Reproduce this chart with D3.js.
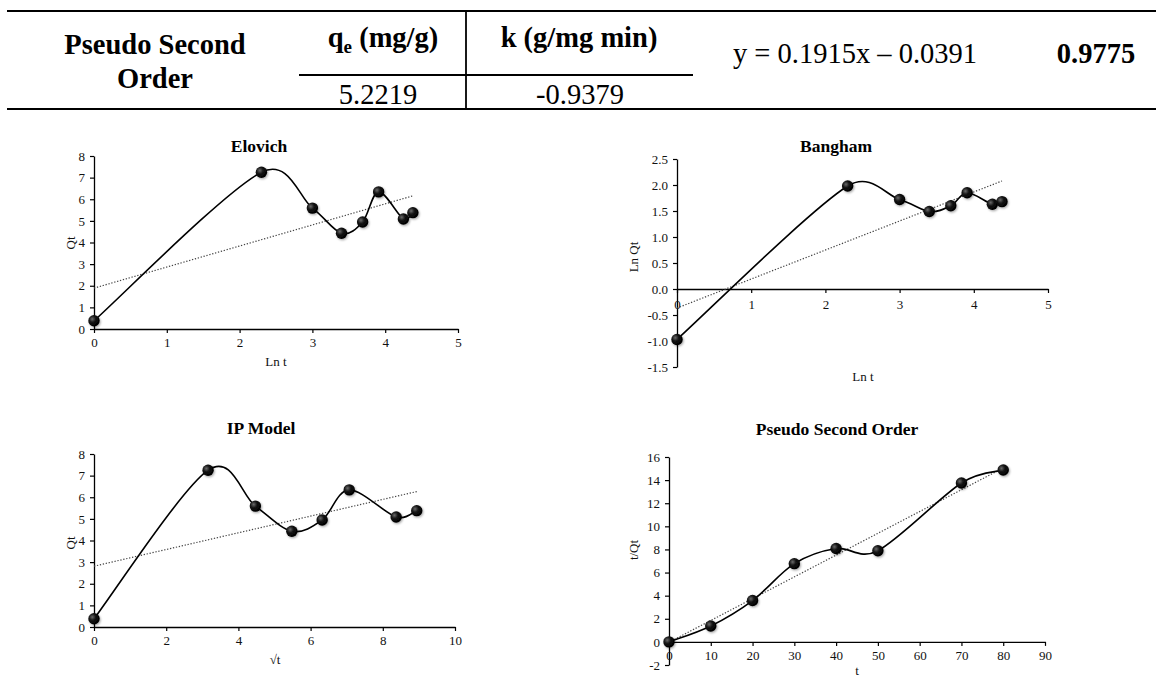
<!DOCTYPE html>
<html>
<head>
<meta charset="utf-8">
<script src="https://cdn.jsdelivr.net/npm/d3@7"></script>
<style>
  html, body { margin: 0; padding: 0; background: #fff; }
  svg { display: block; }
</style>
</head>
<body>
<svg id="chart" width="1156" height="677"></svg>
<script>
// ---------------- DATA ----------------
const timeMin = [0, 10, 20, 30, 40, 50, 70, 80];
const lnT     = [0, 2.30, 3.00, 3.40, 3.69, 3.91, 4.25, 4.38];
const sqrtT   = [0, 3.16, 4.47, 5.48, 6.32, 7.07, 8.37, 8.94];
const qt      = [0.38, 7.25, 5.59, 4.43, 4.95, 6.34, 5.09, 5.38];
const lnQt    = [-0.97, 1.98, 1.72, 1.49, 1.60, 1.85, 1.63, 1.68];
const tOverQt = [0, 1.38, 3.58, 6.77, 8.08, 7.89, 13.75, 14.87];

const elovichXTicks = [0, 1, 2, 3, 4, 5];
const elovichYTicks = [0, 1, 2, 3, 4, 5, 6, 7, 8];
const banghamXTicks = [0, 1, 2, 3, 4, 5];
const banghamYTicks = [-1.5, -1.0, -0.5, 0.0, 0.5, 1.0, 1.5, 2.0, 2.5];
const ipXTicks = [0, 2, 4, 6, 8, 10];
const ipYTicks = [0, 1, 2, 3, 4, 5, 6, 7, 8];
const psoXTicks = [0, 10, 20, 30, 40, 50, 60, 70, 80, 90];
const psoYTicks = [-2, 0, 2, 4, 6, 8, 10, 12, 14, 16];

const tableModel = ["Pseudo Second", "Order"];
const tableQeHeader = ["q", "e", " (mg/g)"];
const tableKHeader = "k (g/mg min)";
const tableValues = ["5.2219", "-0.9379"];
const tableEquation = "y = 0.1915x \u2013 0.0391";
const tableR2 = "0.9775";

// ---------------- SETUP ----------------
const FONT = "'Liberation Serif', 'Times New Roman', serif";
const svg = d3.select("#chart");

const defs = svg.append("defs");
const grad = defs.append("radialGradient").attr("id", "ball")
  .attr("cx", "35%").attr("cy", "35%").attr("r", "65%");
grad.append("stop").attr("offset", "0%").attr("stop-color", "#6a6a6a");
grad.append("stop").attr("offset", "45%").attr("stop-color", "#141414");
grad.append("stop").attr("offset", "100%").attr("stop-color", "#000");
const filt = defs.append("filter").attr("id", "shadow")
  .attr("x", "-50%").attr("y", "-50%").attr("width", "200%").attr("height", "200%");
filt.append("feDropShadow").attr("dx", 1).attr("dy", 1.2)
  .attr("stdDeviation", 1).attr("flood-color", "#000").attr("flood-opacity", 0.35);

// ---------------- TABLE ----------------
const tbl = svg.append("g");
const hline = (x1, x2, y, w) => tbl.append("line").attr("x1", x1).attr("x2", x2)
  .attr("y1", y).attr("y2", y).attr("stroke", "#000").attr("stroke-width", w);
hline(7, 1156, 11, 2.2);
hline(7, 1156, 109, 2.2);
hline(299, 693, 75, 2);
tbl.append("line").attr("x1", 466).attr("x2", 466).attr("y1", 11).attr("y2", 109)
  .attr("stroke", "#000").attr("stroke-width", 1.8);

const tText = (x, y, txt, bold) => tbl.append("text").attr("x", x).attr("y", y)
  .attr("text-anchor", "middle").attr("font-family", FONT)
  .attr("font-size", 28.5).attr("font-weight", bold ? "bold" : "normal")
  .attr("fill", "#000").text(txt);

tText(155, 54, tableModel[0], true);
tText(155, 88, tableModel[1], true);
const qe = tbl.append("text").attr("x", 383).attr("y", 47).attr("text-anchor", "middle")
  .attr("font-family", FONT).attr("font-size", 28.5).attr("font-weight", "bold");
qe.append("tspan").text(tableQeHeader[0]);
qe.append("tspan").attr("font-size", 19).attr("dy", 6).text(tableQeHeader[1]);
qe.append("tspan").attr("dy", -6).text(tableQeHeader[2]);
tText(579, 47, tableKHeader, true);
tText(378, 104, tableValues[0], false);
tText(580, 104, tableValues[1], false);
tText(855, 63, tableEquation, false);
tText(1096, 63, tableR2, true);

// ---------------- PANELS ----------------
function linreg(xs, ys) {
  const mx = d3.mean(xs), my = d3.mean(ys);
  let sxy = 0, sxx = 0;
  xs.forEach((x, i) => { sxy += (x - mx) * (ys[i] - my); sxx += (x - mx) * (x - mx); });
  const slope = sxy / sxx;
  return { slope, intercept: my - slope * mx };
}

// Spreadsheet-style smoothed line: Bezier segments whose handles are 1/6 of the
// neighbour chord, capped at half of the segment length (computed in pixels).
function smoothPath(P) {
  const p = d3.path();
  const dist = (a, b) => Math.hypot(b[0] - a[0], b[1] - a[1]);
  p.moveTo(P[0][0], P[0][1]);
  for (let i = 0; i < P.length - 1; i++) {
    const P1 = P[i], P2 = P[i + 1];
    const P0 = i > 0 ? P[i - 1] : P1;
    const P3 = i + 2 < P.length ? P[i + 2] : P2;
    const d12 = dist(P1, P2), d02 = dist(P0, P2), d13 = dist(P1, P3);
    let f1 = 1 / 6, f2 = 1 / 6;
    if (d02 / 6 > d12 / 2 && d02 > 0) f1 = (d12 / 2) / d02;
    if (d13 / 6 > d12 / 2 && d13 > 0) f2 = (d12 / 2) / d13;
    const c1 = [P1[0] + f1 * (P2[0] - P0[0]), P1[1] + f1 * (P2[1] - P0[1])];
    const c2 = [P2[0] - f2 * (P3[0] - P1[0]), P2[1] - f2 * (P3[1] - P1[1])];
    p.bezierCurveTo(c1[0], c1[1], c2[0], c2[1], P2[0], P2[1]);
  }
  return p.toString();
}

function panel(cfg) {
  const g = svg.append("g");
  const x = d3.scaleLinear().domain(cfg.xDomain).range(cfg.xRange);
  const y = d3.scaleLinear().domain(cfg.yDomain).range(cfg.yRange);

  const styleAxis = sel => {
    sel.select(".domain").attr("stroke", "#000").attr("stroke-width", 1.3);
    sel.selectAll(".tick line").attr("stroke", "#000").attr("stroke-width", 1.2);
    sel.selectAll(".tick text").attr("font-family", FONT).attr("font-size", 13)
      .attr("fill", "#111");
  };

  const yAx = g.append("g").attr("transform", `translate(${x(0)},0)`)
    .call(d3.axisLeft(y).tickValues(cfg.yTicks).tickFormat(cfg.yFmt)
      .tickSize(4).tickSizeOuter(0).tickPadding(5));
  styleAxis(yAx);
  const xAx = g.append("g").attr("transform", `translate(0,${y(0)})`)
    .call(d3.axisBottom(x).tickValues(cfg.xTicks).tickFormat(cfg.xFmt)
      .tickSize(4).tickSizeOuter(0).tickPadding(cfg.xPad || 5));
  styleAxis(xAx);

  // trendline
  const r = linreg(cfg.xs, cfg.ys);
  const x0 = 0, x1 = d3.max(cfg.xs);
  g.append("line")
    .attr("x1", x(x0)).attr("y1", y(r.intercept + r.slope * x0))
    .attr("x2", x(x1)).attr("y2", y(r.intercept + r.slope * x1))
    .attr("stroke", "#444").attr("stroke-width", 1.2)
    .attr("stroke-dasharray", "1.3,1.7");

  // smoothed data line
  const pts = cfg.xs.map((v, i) => [v, cfg.ys[i]]);
  const px = pts.map(d => [x(d[0]), y(d[1])]);
  g.append("path").attr("d", smoothPath(px))
    .attr("fill", "none").attr("stroke", "#000").attr("stroke-width", 1.6);

  // markers
  g.selectAll("circle.pt").data(pts).join("circle").attr("class", "pt")
    .attr("cx", d => x(d[0])).attr("cy", d => y(d[1])).attr("r", 5.7)
    .attr("fill", "url(#ball)").attr("filter", "url(#shadow)");

  g.append("text").attr("x", cfg.title[1]).attr("y", cfg.title[2])
    .attr("text-anchor", "middle").attr("font-family", FONT)
    .attr("font-size", 17.5).attr("font-weight", "bold").attr("fill", "#000")
    .text(cfg.title[0]);
  g.append("text").attr("x", cfg.xTitle[1]).attr("y", cfg.xTitle[2])
    .attr("text-anchor", "middle").attr("font-family", FONT)
    .attr("font-size", 13).attr("fill", "#111").text(cfg.xTitle[0]);
  g.append("text")
    .attr("transform", `translate(${cfg.yTitle[1]},${cfg.yTitle[2]}) rotate(-90)`)
    .attr("text-anchor", "middle").attr("dominant-baseline", "central")
    .attr("font-family", FONT).attr("font-size", 13).attr("fill", "#111")
    .text(cfg.yTitle[0]);
}

const intFmt = d => String(d);
const oneDec = d => d.toFixed(1);

panel({
  xs: lnT, ys: qt,
  xDomain: [0, 5], xRange: [94, 458], yDomain: [0, 8], yRange: [329, 156],
  xTicks: elovichXTicks, yTicks: elovichYTicks, xFmt: intFmt, yFmt: intFmt,
  title: ["Elovich", 259, 152], xTitle: ["Ln t", 276, 366], yTitle: ["Qt", 70, 243]
});

panel({
  xs: lnT, ys: lnQt,
  xDomain: [0, 5], xRange: [677, 1048], yDomain: [-1.5, 2.5], yRange: [367, 159],
  xTicks: banghamXTicks, yTicks: banghamYTicks, xFmt: intFmt, yFmt: oneDec, xPad: 7,
  title: ["Bangham", 836, 152], xTitle: ["Ln t", 863, 381], yTitle: ["Ln Qt", 633, 257]
});

panel({
  xs: sqrtT, ys: qt,
  xDomain: [0, 10], xRange: [94, 455], yDomain: [0, 8], yRange: [627, 454],
  xTicks: ipXTicks, yTicks: ipYTicks, xFmt: intFmt, yFmt: intFmt,
  title: ["IP Model", 261, 434], xTitle: ["\u221At", 275, 664], yTitle: ["Qt", 70, 543]
});

panel({
  xs: timeMin, ys: tOverQt,
  xDomain: [0, 90], xRange: [669, 1045], yDomain: [-2, 16], yRange: [665, 457],
  xTicks: psoXTicks, yTicks: psoYTicks, xFmt: intFmt, yFmt: intFmt,
  title: ["Pseudo Second Order", 837, 435], xTitle: ["t", 857, 675], yTitle: ["t/Qt", 633, 550]
});
</script>
</body>
</html>
